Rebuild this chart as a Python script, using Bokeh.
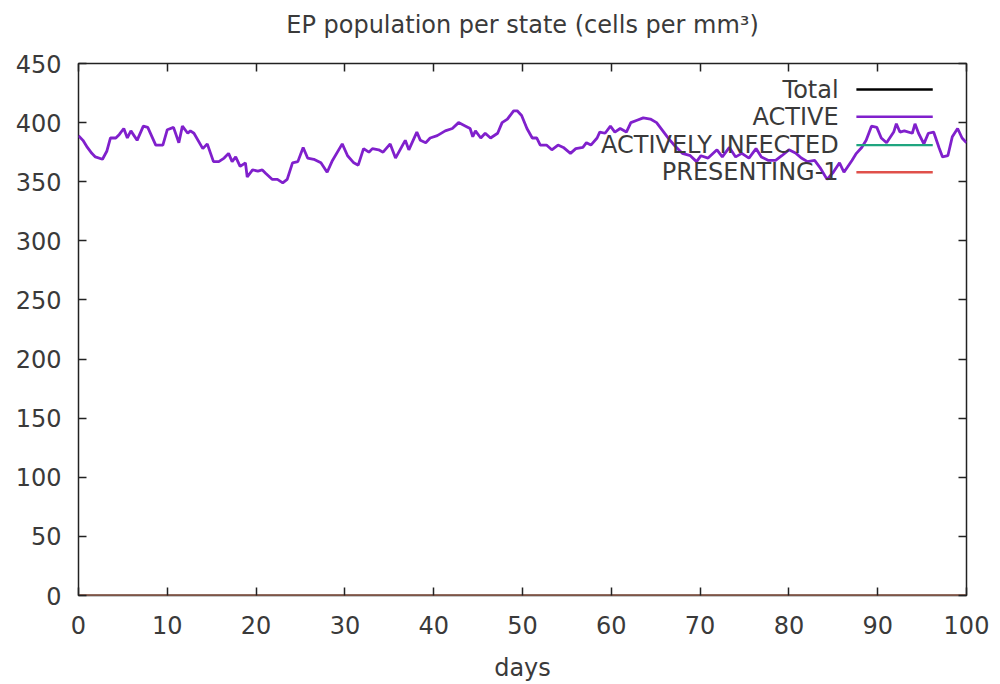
from bokeh.plotting import figure
from bokeh.models import Range1d, LinearAxis, FixedTicker, Label, BoxAnnotation
from bokeh.embed import file_html
from bokeh.resources import INLINE

# ---------------- data ----------------
days = [0.0, 0.5, 1.0, 1.5, 1.9, 2.7, 3.2, 3.6, 4.2, 4.6, 5.1, 5.5, 5.9, 6.6, 7.3, 7.8,
        8.7, 9.5, 10.0, 10.7, 11.3, 11.7, 12.3, 12.6, 13.0, 14.0, 14.5, 15.2, 15.8, 16.4,
        16.9, 17.3, 17.7, 18.2, 18.8, 19.0, 19.6, 20.2, 20.7, 21.1, 21.8, 22.4, 23.0, 23.5,
        24.1, 24.7, 25.3, 25.8, 26.5, 27.3, 28.0, 28.6, 29.7, 30.3, 31.0, 31.5, 32.1, 32.7,
        33.1, 33.8, 34.3, 35.1, 35.7, 36.5, 36.8, 37.2, 38.1, 38.5, 39.1, 39.6, 40.4, 41.3,
        42.1, 42.8, 43.6, 44.1, 44.4, 44.7, 45.3, 45.8, 46.4, 47.2, 47.7, 48.3, 49.0, 49.4,
        49.9, 50.5, 51.1, 51.6, 52.0, 52.7, 53.3, 54.0, 54.6, 55.4, 56.0, 56.8, 57.2, 57.7,
        58.4, 58.7, 59.3, 59.9, 60.4, 61.0, 61.7, 62.2, 62.9, 63.6, 64.4, 65.1, 65.8, 66.5,
        67.2, 68.0, 68.9, 69.6, 70.1, 70.9, 71.9, 72.5, 73.3, 74.0, 74.7, 75.5, 76.3, 76.9,
        77.7, 78.5, 79.2, 80.0, 80.8, 81.4, 82.1, 82.9, 83.5, 84.3, 85.0, 85.7, 86.2, 87.1,
        87.6, 88.2, 88.7, 89.3, 89.9, 90.4, 91.0, 91.8, 92.1, 92.5, 93.0, 93.9, 94.2, 94.6,
        95.2, 95.7, 96.3, 96.9, 97.3, 97.9, 98.4, 99.0, 99.5, 100.0]
active = [389, 385, 379, 374, 371, 369, 376, 387, 387, 390, 395, 387, 393, 385, 397, 396,
          381, 381, 394, 396, 383, 397, 391, 393, 391, 378, 382, 367, 367, 370,
          374, 367, 371, 363, 366, 354, 360, 359, 360, 357, 352, 352, 349, 352,
          366, 367, 379, 370, 369, 366, 358, 368, 382, 372, 366, 364, 378, 375,
          378, 377, 375, 382, 370, 381, 385, 377, 392, 385, 383, 387, 389, 393,
          395, 400, 397, 395, 388, 393, 387, 391, 387, 391, 400, 403, 410, 410,
          406, 395, 387, 387, 381, 381, 377, 381, 379, 374, 378, 379, 383, 381,
          387, 392, 391, 397, 392, 395, 392, 400, 402, 404, 403, 400, 393, 386,
          380, 374, 372, 367, 372, 370, 377, 371, 379, 371, 374, 370, 378, 371,
          368, 368, 372, 377, 374, 370, 367, 368, 362, 352, 358, 366, 358, 368,
          374, 379, 385, 397, 396, 387, 383, 392, 399, 392, 393, 391, 399, 391,
          382, 391, 392, 379, 371, 372, 388, 395, 387, 383]
total = [0 for _ in days]
actively_infected = [0 for _ in days]
presenting_1 = [0 for _ in days]

series_names = ["Total", "ACTIVE", "ACTIVELY INFECTED", "PRESENTING-1"]
series_colors = ["#000000", "#8020cc", "#1fa57f", "#e0504a"]
x_ticks = [0, 10, 20, 30, 40, 50, 60, 70, 80, 90, 100]
y_ticks = [0, 50, 100, 150, 200, 250, 300, 350, 400, 450]
title_text = "EP population per state (cells per mm\u00b3)"

FONT = "DejaVu Sans"
TXT = "#3a3a3a"
FS = "24px"

p = figure(width=1000, height=684, output_backend="svg", toolbar_location=None,
           x_range=Range1d(0, 100), y_range=Range1d(0, 450),
           min_border_left=78, min_border_right=34, min_border_top=63, min_border_bottom=87)
p.background_fill_color = "white"
p.border_fill_color = "white"
p.outline_line_color = "#222222"
p.outline_line_width = 1.5
p.grid.visible = False

for ax in [p.xaxis[0], p.yaxis[0]]:
    ax.axis_line_color = None
    ax.major_tick_in = 8
    ax.major_tick_out = 0
    ax.minor_tick_line_color = None
    ax.major_tick_line_color = "#222222"
    ax.major_tick_line_width = 1.5
    ax.major_label_text_font = FONT
    ax.major_label_text_font_size = FS
    ax.major_label_text_color = TXT
p.xaxis[0].ticker = FixedTicker(ticks=x_ticks)
p.yaxis[0].ticker = FixedTicker(ticks=y_ticks)
p.xaxis[0].major_label_standoff = 20
p.yaxis[0].major_label_standoff = 17
p.xaxis[0].axis_label = "days"
p.xaxis[0].axis_label_text_font = FONT
p.xaxis[0].axis_label_text_font_size = FS
p.xaxis[0].axis_label_text_font_style = "normal"
p.xaxis[0].axis_label_text_color = TXT
p.xaxis[0].axis_label_standoff = 17

# mirrored ticks (top and right), no tick labels; the top one carries the chart title
top_ax = LinearAxis(ticker=FixedTicker(ticks=x_ticks),
                    major_label_overrides={t: "" for t in x_ticks})
right_ax = LinearAxis(ticker=FixedTicker(ticks=y_ticks),
                      major_label_overrides={t: "" for t in y_ticks})
for ax in [top_ax, right_ax]:
    ax.axis_line_color = None
    ax.major_tick_in = 8
    ax.major_tick_out = 0
    ax.minor_tick_line_color = None
    ax.major_tick_line_color = "#222222"
    ax.major_tick_line_width = 1.5
    ax.major_label_standoff = 0
top_ax.axis_label = title_text
top_ax.axis_label_text_font = FONT
top_ax.axis_label_text_font_size = FS
top_ax.axis_label_text_font_style = "normal"
top_ax.axis_label_text_color = TXT
top_ax.axis_label_standoff = 25
p.add_layout(top_ax, "above")
p.add_layout(right_ax, "right")

# series
p.line(days, total, line_color=series_colors[0], line_width=2)
p.line(days, active, line_color=series_colors[1], line_width=2.8)
p.line(days, actively_infected, line_color=series_colors[2], line_width=2)
p.line(days, presenting_1, line_color=series_colors[3], line_width=2)

# gnuplot-style key: text then sample line
key_rows_y = [428, 405, 381, 358]
for name, color, ky in zip(series_names, series_colors, key_rows_y):
    p.add_layout(Label(x=85.6, y=ky, text=name, text_align="right", text_baseline="middle",
                       text_font=FONT, text_font_size=FS, text_color=TXT))
    p.add_layout(BoxAnnotation(left=87.6, right=96.2, bottom=ky - 1.0, top=ky + 1.0,
                               fill_color=color, fill_alpha=1.0, line_color=None))

open("out.html", "w").write(file_html(p, INLINE))
